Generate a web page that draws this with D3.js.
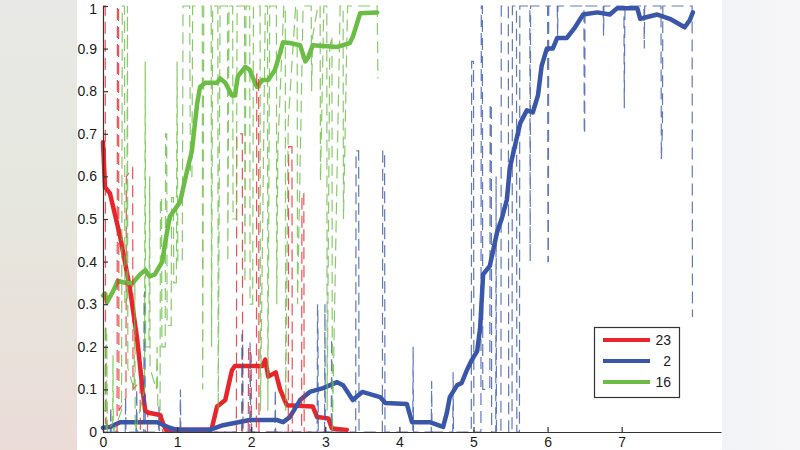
<!DOCTYPE html>
<html><head><meta charset="utf-8">
<script src="https://cdn.jsdelivr.net/npm/d3@7"></script>
<style>html,body{margin:0;padding:0;background:#fff;}svg{display:block;}</style>
</head><body>
<svg id="c" width="800" height="450"></svg>
<script>
// ---- data ----
const xTicks = [0,1,2,3,4,5,6,7];
const yTicks = [0,0.1,0.2,0.3,0.4,0.5,0.6,0.7,0.8,0.9,1];
const legendLabels = ["23","2","16"];
const seriesColors = ["#e8252b","#3a56a9","#6cbd45"];

// smoothed series [t, value]
const red23 = [[0,0.68],[0.027,0.575],[0.094,0.56],[0.23,0.46],[0.36,0.34],[0.46,0.22],[0.53,0.105],[0.57,0.05],[0.61,0.045],[0.77,0.04],[0.81,0.02],[0.85,0.005],[1.45,0.005],[1.47,0.01],[1.54,0.06],[1.65,0.075],[1.74,0.145],[1.78,0.155],[2.15,0.155],[2.19,0.17],[2.23,0.13],[2.33,0.14],[2.39,0.1],[2.48,0.063],[2.83,0.06],[2.89,0.035],[3.04,0.032],[3.09,0.008],[3.29,0.005]];
const blue2 = [[0,0.01],[0.1,0.012],[0.23,0.023],[0.73,0.023],[0.9,0.01],[1.0,0.005],[1.44,0.005],[1.62,0.016],[1.98,0.028],[2.35,0.028],[2.43,0.023],[2.52,0.035],[2.66,0.075],[2.79,0.094],[2.97,0.103],[3.16,0.117],[3.24,0.11],[3.37,0.075],[3.5,0.094],[3.74,0.082],[3.81,0.068],[4.1,0.066],[4.17,0.023],[4.41,0.023],[4.59,0.012],[4.64,0.045],[4.68,0.082],[4.78,0.11],[4.84,0.115],[4.91,0.145],[4.98,0.17],[5.05,0.19],[5.09,0.245],[5.13,0.37],[5.22,0.39],[5.32,0.47],[5.38,0.5],[5.45,0.545],[5.49,0.62],[5.63,0.725],[5.72,0.755],[5.8,0.75],[5.87,0.79],[5.92,0.86],[5.99,0.9],[6.07,0.9],[6.13,0.925],[6.26,0.925],[6.37,0.95],[6.48,0.98],[6.67,0.985],[6.84,0.98],[6.94,0.995],[7.21,0.995],[7.25,0.97],[7.48,0.98],[7.65,0.97],[7.85,0.95],[7.92,0.967],[7.96,0.985]];
const green16 = [[0,0.32],[0.027,0.325],[0.054,0.305],[0.135,0.33],[0.2,0.355],[0.3,0.35],[0.4,0.35],[0.5,0.37],[0.57,0.38],[0.63,0.365],[0.7,0.37],[0.8,0.4],[0.84,0.445],[0.9,0.505],[1.04,0.54],[1.13,0.61],[1.2,0.66],[1.27,0.77],[1.31,0.81],[1.38,0.82],[1.54,0.82],[1.58,0.83],[1.65,0.82],[1.74,0.79],[1.78,0.79],[1.82,0.835],[1.92,0.857],[1.98,0.85],[2.05,0.82],[2.08,0.81],[2.15,0.826],[2.23,0.826],[2.32,0.85],[2.39,0.89],[2.43,0.915],[2.52,0.913],[2.66,0.908],[2.73,0.87],[2.77,0.88],[2.83,0.908],[3.16,0.904],[3.33,0.913],[3.37,0.927],[3.43,0.96],[3.47,0.983],[3.7,0.985]];

// raw (dashed) series [t, value]
const red23raw = [[0,1],[0.03,1],[0.035,0.02],[0.19,0.0],[0.195,1],[0.21,1],[0.215,0.05],[0.31,0.08],[0.315,0.6],[0.4,0.62],[0.405,0.1],[0.5,0.12],[0.505,0.0],[0.6,0.0],[0.605,0.05],[0.8,0.04],[0.805,0.0],[1.8,0.0],[1.805,0.7],[1.88,0.7],[1.885,0.0],[1.96,0.0],[1.965,0.2],[2.0,0.18],[2.005,0.0],[2.07,0.0],[2.075,0.84],[2.1,0.84],[2.105,0.0],[2.5,0.0],[2.505,0.67],[2.55,0.67],[2.555,0.0],[2.68,0.0],[2.685,0.56],[2.71,0.56],[2.715,0.0],[3.29,0.0]];
const blue2raw = [[0,0],[0.1,0],[0.105,0.06],[0.11,0],[0.3,0],[0.305,0.08],[0.31,0],[0.45,0],[0.455,0.1],[0.46,0],[0.55,0],[0.555,0.32],[0.565,0.33],[0.57,0],[0.75,0],[0.755,0.06],[0.76,0],[1.04,0],[1.045,0.1],[1.05,0],[1.87,0],[1.875,0.23],[1.885,0.2],[1.89,0],[1.98,0],[1.985,0.21],[1.99,0.1],[1.995,0],[2.32,0],[2.325,0.1],[2.33,0],[2.89,0],[2.895,0.3],[2.9,0.27],[2.905,0],[2.99,0],[2.995,0.3],[3.0,0],[3.08,0],[3.085,0.22],[3.09,0],[3.41,0],[3.415,0.66],[3.45,0.66],[3.455,0],[3.77,0],[3.775,0.66],[3.8,0.66],[3.805,0],[4.18,0],[4.185,0.2],[4.19,0],[4.43,0],[4.435,0.12],[4.44,0],[4.72,0],[4.725,0.14],[4.73,0],[4.97,0],[4.975,0.87],[5.0,0.87],[5.005,0],[5.1,0],[5.105,1],[5.12,1],[5.125,0.1],[5.22,0.1],[5.225,0.77],[5.24,0.77],[5.245,0],[5.3,0],[5.305,0.6],[5.31,0],[5.37,0],[5.375,1],[5.47,1],[5.475,0],[5.52,0],[5.525,1],[5.58,1],[5.585,0],[5.62,0],[5.625,1],[5.76,1],[5.765,0.4],[5.77,1],[6.0,1],[6.005,0.4],[6.01,0.4],[6.015,1],[6.13,1],[6.135,0.93],[6.14,1],[6.49,1],[6.495,0.7],[6.5,0.7],[6.505,1],[6.75,1],[6.755,0.93],[6.76,1],[7.03,1],[7.035,0.76],[7.04,0.93],[7.045,1],[7.3,1],[7.305,0.9],[7.31,1],[7.53,1],[7.535,0.64],[7.55,0.72],[7.555,1],[7.95,1],[7.955,0.27]];
const green16raw = [[0,0.05],[0.03,0.05],[0.032,0.25],[0.04,0.25],[0.045,0.0],[0.05,0.23],[0.06,0.0],[0.13,0.02],[0.135,0.18],[0.14,0.0],[0.25,0.05],[0.26,1],[0.29,1],[0.295,0.3],[0.32,0.3],[0.33,1],[0.335,0.15],[0.42,0.1],[0.43,0.35],[0.435,0.0],[0.56,0.1],[0.57,0.87],[0.575,0.2],[0.62,0.2],[0.63,0.6],[0.635,0.15],[0.72,0.1],[0.73,0.2],[0.74,0.05],[0.77,0.05],[0.775,0.55],[0.79,0.55],[0.795,0.2],[0.84,0.2],[0.845,0.7],[0.86,0.7],[0.865,0.25],[0.92,0.25],[0.925,0.55],[0.95,0.55],[0.955,0.35],[0.99,0.35],[1.0,0.87],[1.01,0.4],[1.07,0.4],[1.08,1],[1.17,1],[1.18,0.6],[1.2,0.6],[1.21,1],[1.34,1],[1.345,0.1],[1.36,1],[1.46,1],[1.465,0.2],[1.48,1],[1.55,1],[1.555,0.05],[1.58,1],[1.68,1],[1.685,0.4],[1.7,1],[1.75,1],[1.755,0.5],[1.8,0.5],[1.81,1],[1.91,1],[1.915,0.35],[1.93,1],[1.98,1],[1.985,0.3],[2.02,0.3],[2.03,1],[2.12,1],[2.125,0.05],[2.19,1],[2.22,1],[2.225,0.05],[2.25,1],[2.34,1],[2.345,0.3],[2.36,0.67],[2.44,1],[2.46,1],[2.465,0.05],[2.5,0.73],[2.6,1],[2.62,1],[2.625,0.3],[2.7,1],[2.81,1],[2.815,0.8],[2.83,0.93],[2.9,1],[2.93,1],[2.935,0.59],[2.98,1],[3.02,1],[3.025,0.05],[3.06,0.9],[3.09,0.93],[3.095,0.0],[3.2,1],[3.24,1],[3.245,0.5],[3.3,1],[3.7,1],[3.71,0.83]];

// ---- drawing ----
const svg = d3.select("#c");
const W = 800, H = 450;
const defs = svg.append("defs");
const gl = defs.append("linearGradient").attr("id","gl").attr("x1",0).attr("y1",0).attr("x2",0).attr("y2",1);
gl.append("stop").attr("offset","0%").attr("stop-color","#e8e8e6");
gl.append("stop").attr("offset","45%").attr("stop-color","#e6e7de");
gl.append("stop").attr("offset","100%").attr("stop-color","#ebdcd8");
const gr = defs.append("linearGradient").attr("id","gr").attr("x1",0).attr("y1",0).attr("x2",1).attr("y2",0);
gr.append("stop").attr("offset","0%").attr("stop-color","#f2f3f6");
gr.append("stop").attr("offset","100%").attr("stop-color","#f6f6f9");
svg.append("rect").attr("x",0).attr("y",0).attr("width",W).attr("height",H).attr("fill","#fff");
svg.append("rect").attr("x",0).attr("y",0).attr("width",77).attr("height",H).attr("fill","url(#gl)");
svg.append("rect").attr("x",722).attr("y",0).attr("width",78).attr("height",H).attr("fill","url(#gr)");

const x = d3.scaleLinear().domain([0, 8.34]).range([103, 721]);
const y = d3.scaleLinear().domain([0, 1]).range([432, 6]);
const line = d3.line().x(d => x(d[0])).y(d => y(d[1]));

const smooth = [red23, blue2, green16];
const raw = [red23raw, blue2raw, green16raw];

smooth.forEach((s,i) => {
  svg.append("path").attr("d", line(s)).attr("fill","none")
    .attr("stroke", seriesColors[i]).attr("stroke-width",4.5)
    .attr("stroke-linejoin","round").attr("stroke-linecap","round");
});
raw.forEach((s,i) => {
  svg.append("path").attr("d", line(s)).attr("fill","none")
    .attr("stroke", seriesColors[i]).attr("stroke-width",1.2)
    .attr("stroke-opacity",0.8)
    .attr("stroke-dasharray","12,6");
});

const fmt = d => d === 0 ? "0" : d === 1 ? "1" : d3.format(".1f")(d);
const ax = svg.append("g").attr("transform","translate(0,432)")
  .call(d3.axisBottom(x).tickValues(xTicks).tickSize(-5).tickSizeOuter(0).tickPadding(5).tickFormat(d3.format("d")));
const ay = svg.append("g").attr("transform","translate(103,0)")
  .call(d3.axisLeft(y).tickValues(yTicks).tickSize(-5).tickSizeOuter(0).tickPadding(6).tickFormat(fmt));
[ax, ay].forEach(g => {
  g.select(".domain").attr("stroke","#333").attr("stroke-width",1.2);
  g.selectAll(".tick line").attr("stroke","#333").attr("stroke-width",1.2);
  g.selectAll("text").attr("fill","#1a1a1a").attr("font-family","'Liberation Sans', Arial, sans-serif").attr("font-size",14);
});
// keep the top label ("1") fully inside the picture
ay.selectAll(".tick text").filter(d => d === 1).attr("dy","0.5em");

// legend
const lg = svg.append("g");
lg.append("rect").attr("x",594.5).attr("y",327.5).attr("width",85).attr("height",70)
  .attr("fill","#fff").attr("stroke","#333").attr("stroke-width",1.2);
legendLabels.forEach((lab,i) => {
  const yy = 340 + i*21;
  lg.append("line").attr("x1",603).attr("x2",650).attr("y1",yy).attr("y2",yy)
    .attr("stroke",seriesColors[i]).attr("stroke-width",4);
  lg.append("text").attr("x",671).attr("y",yy+5).attr("text-anchor","end")
    .attr("font-family","'Liberation Sans', Arial, sans-serif").attr("font-size",14).attr("fill","#1a1a1a").text(lab);
});
</script>
</body></html>
